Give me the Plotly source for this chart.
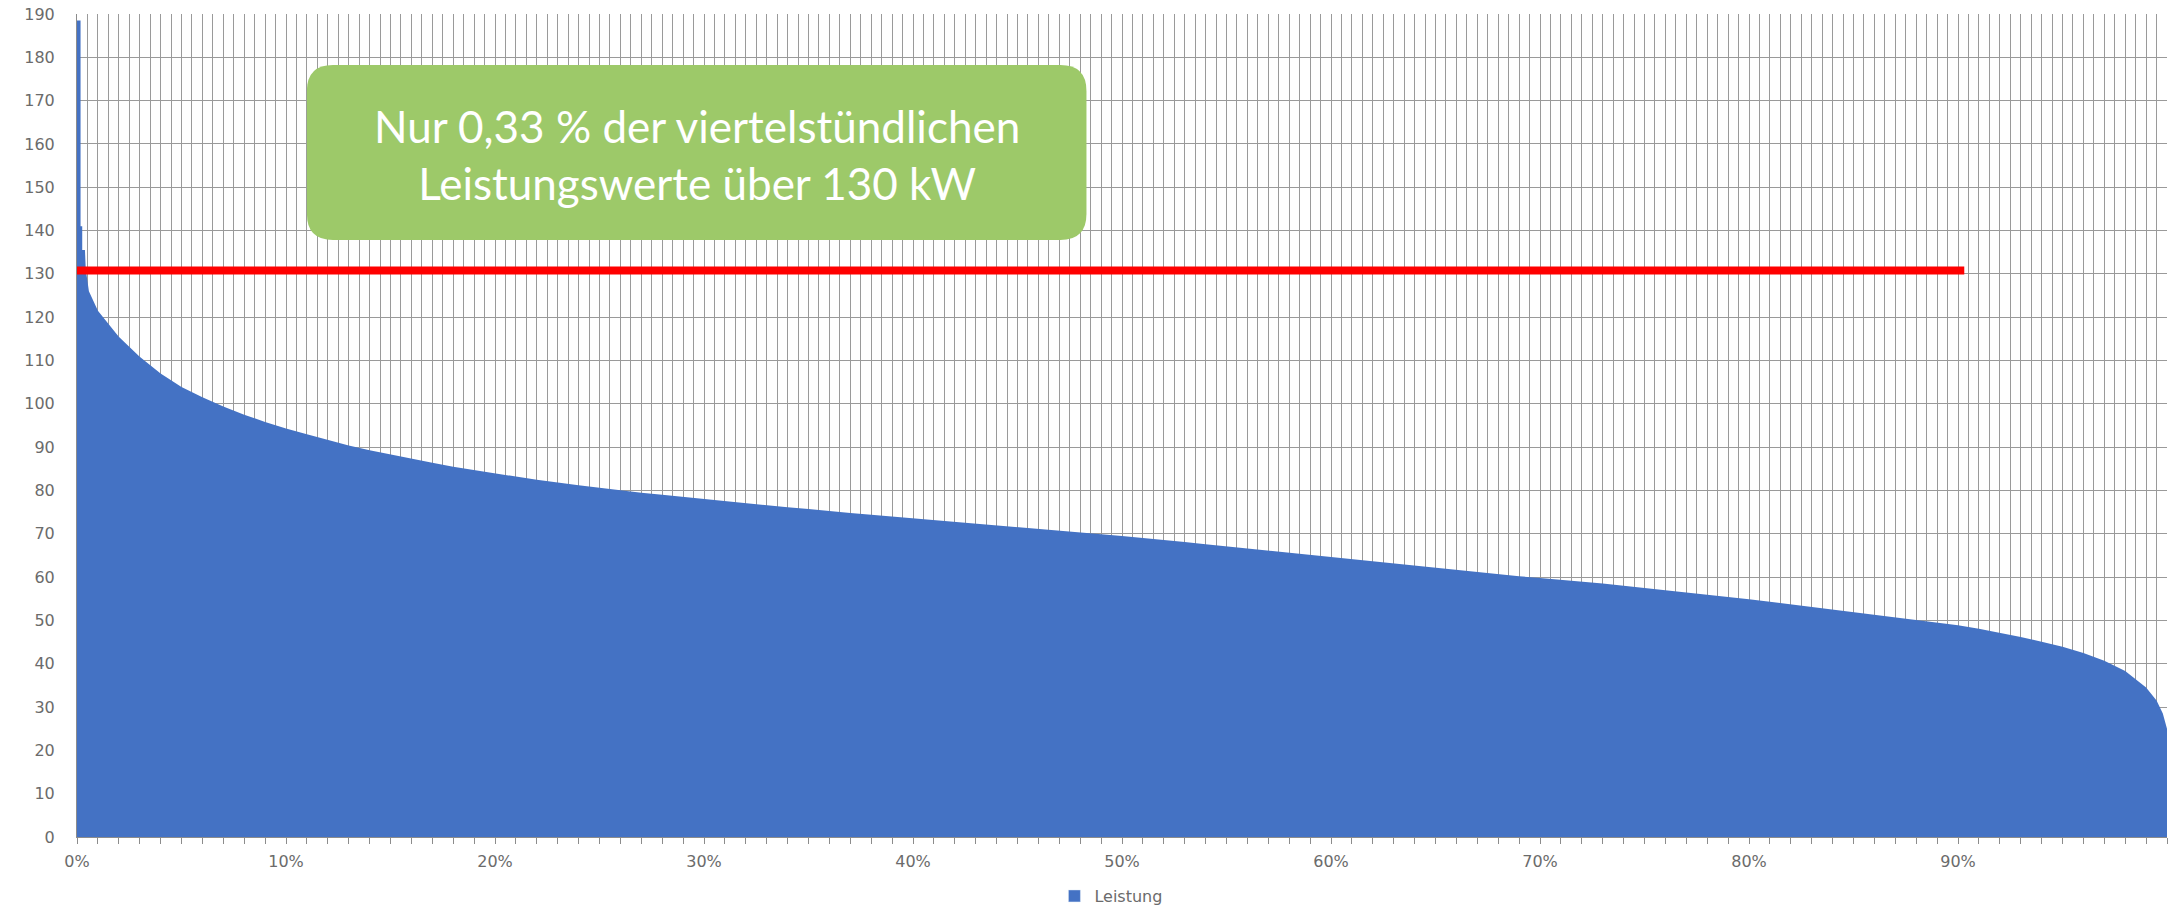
import plotly.graph_objects as go

# ---- data ----
anteil_prozent = [0, 0.17, 0.17, 0.25, 0.25, 0.38, 0.42, 0.57,
                  1, 2, 3, 4, 5, 6, 7, 8, 9, 10,
                  11, 12, 13, 14, 15, 16, 17, 18, 19, 20,
                  21, 22, 23, 24, 25, 26, 27, 28, 29, 30,
                  31, 32, 33, 34, 35, 36, 37, 38, 39, 40,
                  41, 42, 43, 44, 45, 46, 47, 48, 49, 50,
                  51, 52, 53, 54, 55, 56, 57, 58, 59, 60,
                  61, 62, 63, 64, 65, 66, 67, 68, 69, 70,
                  71, 72, 73, 74, 75, 76, 77, 78, 79, 80,
                  81, 82, 83, 84, 85, 86, 87, 88, 89, 90,
                  91, 92, 93, 94, 95, 96, 97, 98, 99, 99.5, 99.8, 100]
leistung_kw = [188.5, 188.5, 141, 141, 135.5, 135.5, 131, 126,
               121.5, 115.5, 110.9, 107.0, 103.9, 101.5, 99.4, 97.5, 95.8, 94.3,
               93.0, 91.7, 90.4, 89.3, 88.3, 87.3, 86.4, 85.5, 84.7, 83.9,
               83.2, 82.5, 81.8, 81.2, 80.6, 80.0, 79.5, 79.0, 78.5, 78.0,
               77.5, 77.0, 76.6, 76.1, 75.7, 75.2, 74.8, 74.4, 74.0, 73.6,
               73.2, 72.8, 72.4, 72.0, 71.6, 71.2, 70.8, 70.3, 69.9, 69.5,
               69.0, 68.6, 68.1, 67.6, 67.1, 66.6, 66.1, 65.6, 65.1, 64.6,
               64.1, 63.6, 63.2, 62.7, 62.2, 61.7, 61.2, 60.7, 60.2, 59.8,
               59.4, 59.0, 58.5, 58.0, 57.5, 57.0, 56.5, 56.0, 55.4, 54.9,
               54.3, 53.7, 53.1, 52.5, 51.9, 51.3, 50.7, 50.2, 49.6, 48.9,
               48.1, 47.2, 46.2, 45.1, 43.9, 42.5, 40.7, 38.3, 34.5, 31.5, 28.5, 25]
schwelle_x = [0, 90.3]
schwelle_kw = [130.8, 130.8]
x_tick_labels = ["0%", "10%", "20%", "30%", "40%", "50%", "60%", "70%", "80%", "90%"]
y_tick_values = [0, 10, 20, 30, 40, 50, 60, 70, 80, 90, 100, 110, 120,
                 130, 140, 150, 160, 170, 180, 190]
box_text = "Nur 0,33 % der viertelstündlichen<br>Leistungswerte über 130 kW"
serie_name = "Leistung"
serie_farbe = "#4472C4"

# ---- figure ----
fig = go.Figure()
fig.add_trace(go.Scatter(
    x=anteil_prozent, y=leistung_kw, name=serie_name, showlegend=False,
    mode="lines", line=dict(width=0, color=serie_farbe),
    fill="tozeroy", fillcolor=serie_farbe, hoverinfo="x+y",
))
# legend entry (square swatch as in the original)
fig.add_trace(go.Bar(x=[None], y=[None], name=serie_name,
                     marker=dict(color=serie_farbe), showlegend=True))
fig.add_trace(go.Scatter(
    x=schwelle_x, y=schwelle_kw, mode="lines", showlegend=False,
    line=dict(color="#FF0000", width=8),
))

# gridlines every 0.5 %, labels every 10 %
label_pos = {int(t[:-1]): t for t in x_tick_labels}
grid_vals = [i * 0.5 for i in range(0, 201)]
grid_text = [label_pos.get(int(v), "") if float(v).is_integer() else "" for v in grid_vals]

grid_col = "#9a9a9a"
tick_font = dict(family="DejaVu Sans", size=16, color="#6b6b6b")

fig.update_xaxes(
    range=[0, 100], tickmode="array", tickvals=grid_vals, ticktext=grid_text,
    ticks="", showgrid=True, gridcolor=grid_col, gridwidth=1,
    showline=True, linecolor="#8c8c8c", linewidth=1, zeroline=False,
    tickfont=tick_font, ticklabelstandoff=10, automargin=False,
    ticklabeloverflow="allow",
    minor=dict(dtick=1, tick0=0, ticks="outside", ticklen=6,
               tickcolor="#8c8c8c", showgrid=False),
)
fig.update_yaxes(
    range=[0, 190], tickmode="array", tickvals=y_tick_values,
    ticks="", showgrid=True, gridcolor=grid_col, gridwidth=1,
    showline=True, linecolor="#8c8c8c", linewidth=1, zeroline=False,
    tickfont=tick_font, ticklabelstandoff=18, automargin=False,
    ticklabeloverflow="allow",
)

# rounded green text box
x0, x1, y0, y1 = 11.0, 48.3, 137.8, 178.2
rx, ry = 1.25, 6.0
path = (f"M {x0+rx},{y0} L {x1-rx},{y0} Q {x1},{y0} {x1},{y0+ry} "
        f"L {x1},{y1-ry} Q {x1},{y1} {x1-rx},{y1} L {x0+rx},{y1} "
        f"Q {x0},{y1} {x0},{y1-ry} L {x0},{y0+ry} Q {x0},{y0} {x0+rx},{y0} Z")
fig.add_shape(type="path", path=path, xref="x", yref="y",
              fillcolor="#9DC969", line=dict(width=0), layer="above")
fig.add_annotation(x=(x0 + x1) / 2, y=(y0 + y1) / 2 - 0.5, xref="x", yref="y",
                   text=box_text, showarrow=False,
                   font=dict(family="Lato", size=44, color="white"))

fig.update_layout(
    width=2177, height=907,
    margin=dict(l=77, r=10, t=14, b=70, autoexpand=False),
    plot_bgcolor="white", paper_bgcolor="white",
    showlegend=True,
    legend=dict(orientation="h", x=0.4947, xanchor="center",
                yref="container", y=0.0121, yanchor="middle",
                font=dict(family="DejaVu Sans", size=16, color="#6b6b6b"),
                itemwidth=30),
)

# remove the default 8px page margin so the figure fills the window exactly
fig.write_html("out.html",
               config={"displayModeBar": False},
               post_script="document.body.style.margin='0';document.body.style.overflow='hidden';")
